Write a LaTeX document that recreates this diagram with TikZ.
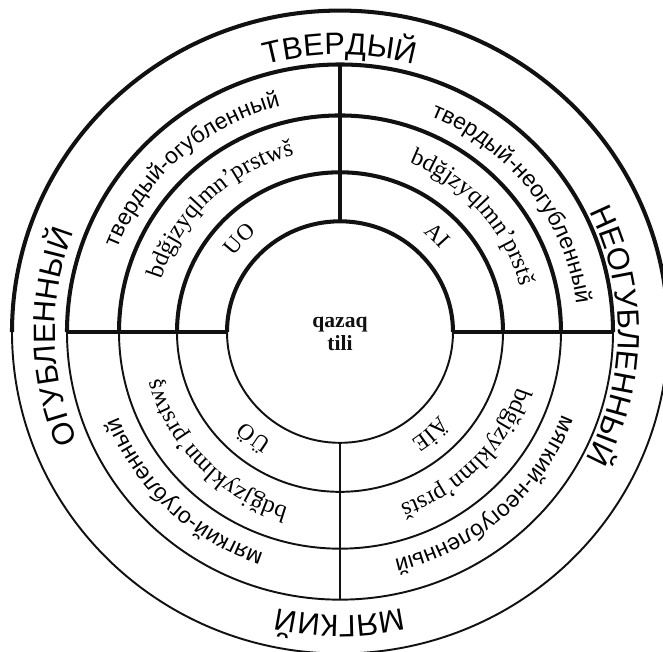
\documentclass[tikz,border=0pt]{standalone}
\usepackage{fontspec}
\setmainfont{Liberation Serif}
\newfontfamily\cyrsans{Liberation Sans}
\usetikzlibrary{decorations.text}
\definecolor{ink}{HTML}{111111}
\newcommand\bigfont{\cyrsans\fontsize{17.5}{20}\selectfont}
\newcommand\midfont{\cyrsans\fontsize{13}{15}\selectfont}
\newcommand\letfont{\fontsize{14}{16}\selectfont}
\newcommand\vowfont{\fontsize{13}{15}\selectfont}

\begin{document}
\begin{tikzpicture}[x=0.02cm,y=0.0196cm,
 hard/.style={draw=ink,line width=2.3pt},
 soft/.style={draw=ink,line width=1.1pt},
 curved/.style={decorate,decoration={text along path,text align=center,text={#1}}}]
\useasboundingbox (-340,-325.5) rectangle (323,338.8);
% rings: upper half heavy, lower half light
\foreach \r in {113,163,221,273,328}{
 \draw[hard] (180:\r) arc[start angle=180,end angle=0,radius=\r];
 \draw[soft] (180:\r) arc[start angle=180,end angle=360,radius=\r];}
\draw[hard] (180:113)--(180:273);
\draw[hard] (0:113)--(0:273);
\draw[hard] (90:113)--(90:273);
\draw[soft] (270:113)--(270:273);
\node[font=\bfseries\fontsize{12.3}{13.5}\selectfont,align=center,text=ink] (ctr) at (0,-2) {qazaq\\tili};
% outer band
\foreach \a/\r/\t in {90/283/ТВЕРДЫЙ,-0.7/278/НЕОГУБЛЕННЫЙ,181/285/ОГУБЛЕННЫЙ,270/289/МЯГКИЙ}{
 \path[curved={|\bigfont|\t}] (\a+60:\r) arc[start angle=\a+60,end angle=\a-60,radius=\r];}
% second band
\foreach \a/\t in {132/твердый-огубленный,37/твердый-неогубленный,226/мягкий-огубленный,311.5/мягкий-неогубленный}{
 \path[curved={|\midfont|\t}] (\a+60:238) arc[start angle=\a+60,end angle=\a-60,radius=238];}
% consonants
\foreach \a/\t in {134/bdğjzyqlmnʼprstwš,41/bdğjzyqlmnʼprstš,224/bdğjzyklmnʼprstwş,316/bdğjzyklmnʼprstš}{
 \path[curved={|\letfont|\t}] (\a+60:186) arc[start angle=\a+60,end angle=\a-60,radius=186];}
% vowels
\foreach \a/\t in {137/UO,45/AI,231/ÜÖ,311.5/ÄİE}{
 \path[curved={|\vowfont|\t}] (\a+50:131) arc[start angle=\a+50,end angle=\a-50,radius=131];}
\end{tikzpicture}
\end{document}
